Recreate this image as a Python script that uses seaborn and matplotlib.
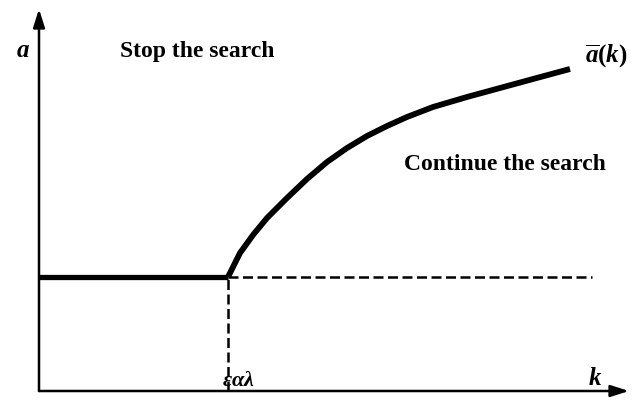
import matplotlib
matplotlib.use("Agg")
import matplotlib.pyplot as plt
import seaborn as sns
import pandas as pd

sns.set_style("white")
plt.rcParams["font.family"] = ["Liberation Serif", "DejaVu Serif"]
plt.rcParams["text.color"] = "black"
plt.rcParams["mathtext.fontset"] = "custom"
plt.rcParams["mathtext.it"] = "Liberation Serif:italic:bold"
plt.rcParams["mathtext.rm"] = "Liberation Serif:bold"
plt.rcParams["mathtext.bf"] = "Liberation Serif:bold"

# threshold and flat level
k_threshold = 189
a_low = 114
k_max_dashed = 553

# curve a_bar(k) for k >= threshold
curve_k = [189, 201, 214, 228, 248, 268, 288, 308, 328, 348, 368, 394, 428, 461, 494, 531]
curve_a = [114, 138, 156, 173, 193, 212, 229, 243, 255, 265, 274, 284, 294, 303, 312, 322]

# flat part
flat_k = [0, 189]
flat_a = [114, 114]

fig = plt.figure(figsize=(6.36, 4.0), dpi=100)
ax = fig.add_axes([0, 0, 1, 1])
ax.set_xlim(-39, 597)
ax.set_ylim(-9, 391)
ax.axis("off")

curve_df = pd.DataFrame({"k": curve_k, "a": curve_a})
flat_df = pd.DataFrame({"k": flat_k, "a": flat_a})

sns.lineplot(data=curve_df, x="k", y="a", ax=ax, color="black", lw=4.2,
             sort=False, solid_capstyle="butt", solid_joinstyle="round")
sns.lineplot(data=flat_df, x="k", y="a", ax=ax, color="black", lw=3.8,
             sort=False, solid_capstyle="butt")

# dashed lines
ax.plot([k_threshold, k_max_dashed], [a_low, a_low], color="black", lw=1.8,
        dashes=(4, 1.8))
ax.plot([k_threshold, k_threshold], [0, a_low], color="black", lw=1.8,
        dashes=(4, 1.8))

# axes arrows
arrow = dict(arrowstyle="-|>,head_length=1.1,head_width=0.35", color="black",
             lw=1.8, shrinkA=0, shrinkB=0)
ax.annotate("", xy=(590, 0), xytext=(0, 0), arrowprops=arrow)
ax.annotate("", xy=(0, 382), xytext=(0, 0), arrowprops=arrow)

# labels
ax.text(-16, 340, "$a$", fontsize=18, ha="center", va="center", color="black")
ax.text(556, 12, "$k$", fontsize=18, ha="center", va="center", color="black")
ax.text(199, 9, r"$\varepsilon\alpha\lambda$", fontsize=16, ha="center",
        va="center", color="black")
ax.text(567, 335, r"$\overline{a}(k)$", fontsize=18, ha="center", va="center",
        color="black")
ax.text(158, 339, "Stop the search", fontsize=17, fontweight="bold",
        ha="center", va="center", color="black")
ax.text(466, 226, "Continue the search", fontsize=17, fontweight="bold",
        ha="center", va="center", color="black")

fig.savefig("out.png", dpi=100)
